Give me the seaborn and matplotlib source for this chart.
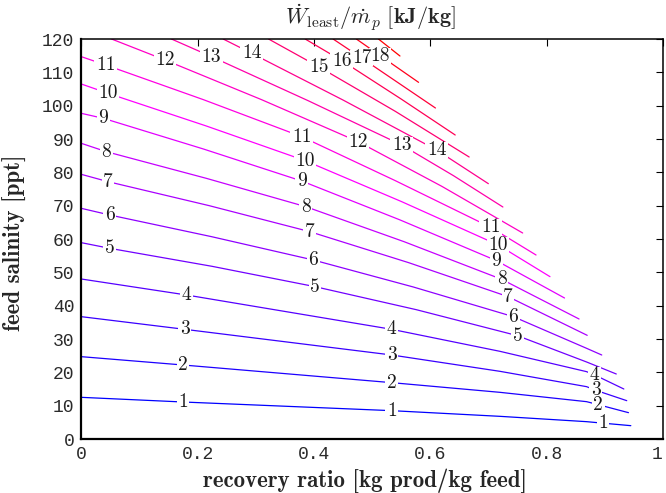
import matplotlib
matplotlib.use("Agg")
import numpy as np
import pandas as pd
import seaborn as sns
import matplotlib.pyplot as plt
from matplotlib.patches import Rectangle

# ---- contour lines: recovery ratio (r) vs feed salinity (S, ppt) ----
r01 = [0.0, 0.175, 0.534, 0.72, 0.869, 0.897, 0.945]
s01 = [12.5, 11.1, 8.5, 6.8, 5.2, 4.75, 4.0]
r02 = [0.0, 0.175, 0.534, 0.72, 0.869, 0.889, 0.941]
s02 = [24.7, 22.2, 16.9, 14.0, 11.2, 10.3, 7.9]
r03 = [0.0, 0.178, 0.534, 0.72, 0.869, 0.885, 0.938]
s03 = [36.7, 32.9, 25.2, 20.3, 15.7, 14.6, 11.5]
r04 = [0.0, 0.181, 0.534, 0.72, 0.869, 0.883, 0.933]
s04 = [48.0, 43.2, 32.9, 26.3, 20.2, 19.2, 15.0]
r05 = [0.0, 0.049, 0.225, 0.402, 0.576, 0.750, 0.869, 0.920]
s05 = [58.9, 57.2, 51.8, 45.7, 38.8, 31.0, 23.1, 19.5]
r06 = [0.0, 0.049, 0.224, 0.399, 0.571, 0.743, 0.869, 0.895]
s06 = [69.2, 67.2, 60.7, 53.7, 45.6, 36.7, 27.2, 25.2]
r07 = [0.0, 0.046, 0.220, 0.393, 0.563, 0.734, 0.870]
s07 = [79.4, 77.2, 70.0, 62.2, 52.9, 42.7, 31.1]
r08 = [0.0, 0.043, 0.215, 0.386, 0.555, 0.723, 0.856]
s08 = [88.7, 86.2, 78.2, 69.7, 59.2, 47.9, 36.0]
r09 = [0.0, 0.038, 0.210, 0.379, 0.547, 0.714, 0.831]
s09 = [97.7, 96.2, 87.0, 77.4, 65.8, 53.5, 42.3]
r10 = [0.0, 0.046, 0.215, 0.385, 0.551, 0.717, 0.806]
s10 = [106.5, 103.7, 93.9, 83.5, 71.2, 58.2, 48.7]
r11 = [0.0, 0.042, 0.210, 0.379, 0.540, 0.704, 0.782]
s11 = [114.7, 112.2, 101.8, 90.7, 77.5, 63.5, 55.2]
r12 = [0.052, 0.144, 0.310, 0.476, 0.620, 0.759]
s12 = [120.0, 113.7, 101.8, 89.2, 75.8, 61.8]
r13 = [0.155, 0.224, 0.390, 0.551, 0.640, 0.725]
s13 = [120.0, 114.7, 101.5, 88.2, 79.0, 69.6]
r14 = [0.244, 0.293, 0.450, 0.611, 0.700]
s14 = [120.0, 115.7, 101.7, 86.7, 76.6]
r15 = [0.322, 0.408, 0.540, 0.667]
s15 = [120.0, 111.7, 98.3, 84.6]
r16 = [0.385, 0.448, 0.550, 0.643]
s16 = [120.0, 113.5, 102.0, 91.2]
r17 = [0.433, 0.482, 0.609]
s17 = [120.0, 114.3, 99.3]
r18 = [0.473, 0.514, 0.580]
s18 = [120.0, 115.0, 107.0]
r19 = [0.511, 0.548]
s19 = [120.0, 114.9]

# ---- inline contour labels ----
label_text = ["1", "1", "1", "2", "2", "2", "3", "3", "3", "4", "4", "4",
              "5", "5", "5", "6", "6", "6", "7", "7", "7", "8", "8", "8",
              "9", "9", "9", "10", "10", "10", "11", "11", "11",
              "12", "12", "13", "13", "14", "14", "15", "16", "17", "18"]
label_r = [0.175, 0.534, 0.897, 0.175, 0.534, 0.889, 0.178, 0.534, 0.885,
           0.181, 0.534, 0.883, 0.049, 0.402, 0.750, 0.049, 0.399, 0.743,
           0.046, 0.393, 0.734, 0.043, 0.386, 0.723, 0.038, 0.379, 0.714,
           0.046, 0.385, 0.717, 0.042, 0.379, 0.704,
           0.144, 0.476, 0.224, 0.551, 0.293, 0.611, 0.408, 0.448, 0.482, 0.514]
label_s = [11.1, 8.5, 4.75, 22.2, 16.9, 10.3, 32.9, 25.2, 14.6,
           43.2, 32.9, 19.2, 57.2, 45.7, 31.0, 67.2, 53.7, 36.7,
           77.2, 62.2, 42.7, 86.2, 69.7, 47.9, 96.2, 77.4, 53.5,
           103.7, 83.5, 58.2, 112.2, 90.7, 63.5,
           113.7, 89.2, 114.7, 88.2, 115.7, 86.7, 111.7, 113.5, 114.3, 115.0]

x_ticks = [0, 0.2, 0.4, 0.6, 0.8, 1]
x_ticklabels = ["0", "0.2", "0.4", "0.6", "0.8", "1"]
y_ticks = list(range(0, 121, 10))

lines_r = [r01, r02, r03, r04, r05, r06, r07, r08, r09, r10,
           r11, r12, r13, r14, r15, r16, r17, r18, r19]
lines_s = [s01, s02, s03, s04, s05, s06, s07, s08, s09, s10,
           s11, s12, s13, s14, s15, s16, s17, s18, s19]

rows = []
for lvl, (rr, ss) in enumerate(zip(lines_r, lines_s), start=1):
    for k, (a, b) in enumerate(zip(rr, ss)):
        rows.append({"level": lvl, "r": a, "S": b, "k": k})
df = pd.DataFrame(rows)

# blue -> magenta -> red colormap
palette = {}
for lvl in range(1, 20):
    if lvl <= 10:
        palette[lvl] = ((lvl - 1) / 9.0, 0.0, 1.0)
    else:
        palette[lvl] = (1.0, 0.0, (19 - lvl) / 9.0)

sns.set_theme(style="white")
plt.rcParams["mathtext.fontset"] = "cm"

W, H = 666, 493
fig = plt.figure(figsize=(W / 100, H / 100), dpi=100)
ax = fig.add_axes([81.3 / W, 1 - 439 / H, (662.8 - 81.3) / W, 400 / H])

sns.lineplot(data=df, x="r", y="S", hue="level", palette=palette, sort=False,
             estimator=None, units="level", legend=False, linewidth=0.9, ax=ax)

ax.set_xlim(0, 1)
ax.set_ylim(0, 120)

label_artists = []
for t, a, b in zip(label_text, label_r, label_s):
    label_artists.append(ax.text(a, b, t, ha="center", va="center", fontsize=14,
                                 family="cmr10", color="#1a1a1a", zorder=5))

ax.set_xticks(x_ticks)
ax.set_xticklabels(x_ticklabels)
ax.set_yticks(y_ticks)
ax.tick_params(direction="in", length=5, width=0.8, top=True, right=True,
               labelsize=13, colors="black", pad=5)
for lab in ax.get_xticklabels() + ax.get_yticklabels():
    lab.set_family("Liberation Mono")
    lab.set_color("#2a2a2a")
ax.get_xticklabels()[-1].set_ha("right")
for sp in ax.spines.values():
    sp.set_color("black")
    sp.set_linewidth(1.1)
ax.spines["left"].set_linewidth(1.6)
ax.spines["bottom"].set_linewidth(1.6)

ax.set_xlabel("recovery ratio [kg prod/kg feed]", family="cmb10", fontsize=16.5)
ax.set_ylabel("feed salinity [ppt]", family="cmb10", fontsize=16.5)
ax.xaxis.set_label_coords(0.488, -0.074)
ax.yaxis.set_label_coords(-0.094, 0.49)

fig.text(370 / W, 1 - 18 / H,
         r"$\dot{W}_{\mathrm{least}}/\dot{m}_p\ \mathbf{[kJ/kg]}$",
         ha="center", va="center", fontsize=16)

# white gaps in the contour lines behind each label (like clabel's inline breaks)
fig.canvas.draw()
renderer = fig.canvas.get_renderer()
inv = ax.transData.inverted()
for art in label_artists:
    bb = art.get_window_extent(renderer)
    (x0, y0) = inv.transform((bb.x0 - 1.5, bb.y0 + 1.0))
    (x1, y1) = inv.transform((bb.x1 + 1.5, bb.y1 - 1.0))
    ax.add_patch(Rectangle((x0, y0), x1 - x0, y1 - y0, facecolor="white",
                           edgecolor="none", zorder=4))

fig.savefig("out.png", dpi=100, facecolor="white")
